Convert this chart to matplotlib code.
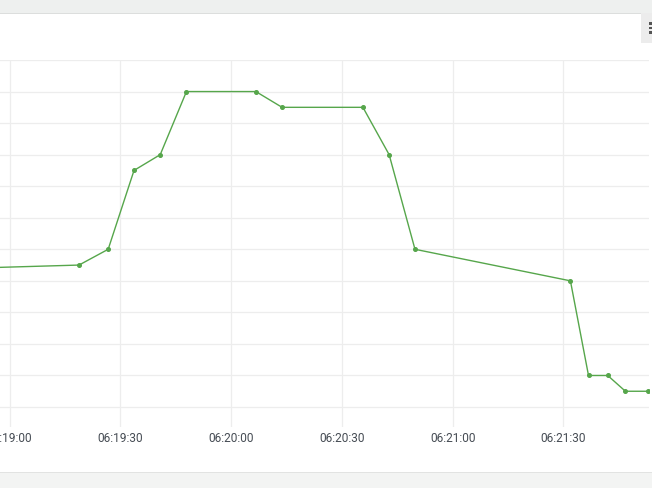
import matplotlib
matplotlib.use("Agg")
import matplotlib.pyplot as plt
import matplotlib.dates as mdates
from matplotlib.patches import Rectangle
import numpy as np
from datetime import datetime, timedelta

# samples (seconds after 06:19:00) and values
secs = [-10.7, 18.8, 26.7, 33.7, 40.8, 47.9, 66.7, 73.8, 95.7, 102.8,
        109.8, 151.9, 156.8, 162.0, 166.8, 172.9]
vals = [4.4, 4.5, 5.0, 7.5, 8.0, 10.0, 10.0, 9.5, 9.5, 8.0,
        5.0, 4.0, 1.0, 1.0, 0.5, 0.5]
tick_secs = [0, 30, 60, 90, 120, 150]

base = datetime(2021, 1, 1, 6, 19, 0)
times = [base + timedelta(seconds=s) for s in secs]
ticks = [base + timedelta(seconds=s) for s in tick_secs]

plt.rcParams['font.family'] = ['Roboto', 'DejaVu Sans']

fig = plt.figure(figsize=(6.52, 4.89), dpi=100)
fig.patch.set_facecolor("white")

# page bands top and bottom
fig.add_artist(Rectangle((0, 1 - 13.5 / 489), 1, 13.5 / 489, transform=fig.transFigure,
                         facecolor="#eef0ef", edgecolor="none"))
fig.add_artist(Rectangle((0, 1 - 14.5 / 489), 1, 1 / 489, transform=fig.transFigure,
                         facecolor="#dcdedd", edgecolor="none"))
fig.add_artist(Rectangle((0, 0), 1, 15 / 489, transform=fig.transFigure,
                         facecolor="#f3f4f3", edgecolor="none"))
fig.add_artist(Rectangle((0, 15 / 489), 1, 1 / 489, transform=fig.transFigure,
                         facecolor="#e2e3e2", edgecolor="none"))
# menu button at top right
fig.add_artist(Rectangle((641 / 652, 1 - 44 / 489), 11 / 652, 30 / 489, transform=fig.transFigure,
                         facecolor="#ececec", edgecolor="none"))
for yy in [24.5, 29, 33.5]:
    fig.add_artist(Rectangle((649 / 652, 1 - (yy + 1.2) / 489), 3 / 652, 2.4 / 489,
                             transform=fig.transFigure, facecolor="#555555", edgecolor="none"))

ax = fig.add_axes([0, 1 - 428 / 489, 648.5 / 652, (428 - 61) / 489])
ax.set_facecolor("none")

ax.plot(times, vals, color="#56a64b", linewidth=1, marker="o", markersize=2.6,
        clip_on=True, zorder=3)

px_per_s = 110.76 / 30
x0 = -9.6 / px_per_s
x1 = (648.5 - 9.6) / px_per_s
ax.set_xlim(base + timedelta(seconds=x0), base + timedelta(seconds=x1))
step = 31.6
ax.set_ylim(-(428 - 408) / step, 11)

ax.set_yticks(np.arange(0, 12, 1))
ax.set_xticks(ticks)
ax.xaxis.set_major_formatter(mdates.DateFormatter("%H:%M:%S"))
ax.tick_params(axis="y", length=0, labelleft=False)
ax.tick_params(axis="x", length=0, pad=3, labelsize=8.6, labelcolor="#464c54")
ax.grid(True, color="#ededed", linewidth=0.9)
for s in ax.spines.values():
    s.set_visible(False)

fig.savefig("out.png", dpi=100, facecolor="white")
